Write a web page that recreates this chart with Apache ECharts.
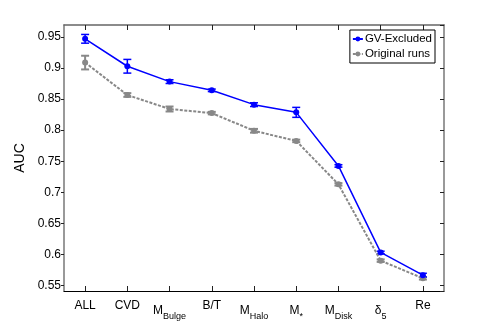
<!DOCTYPE html>
<html><head><meta charset="utf-8">
<script src="https://cdn.jsdelivr.net/npm/echarts@6/dist/echarts.min.js"></script>
<style>html,body{margin:0;padding:0;background:#fff}#c{width:491px;height:327px}</style>
</head><body><div id="c"></div>
<script>
var categories = ['ALL','CVD','MBulge','B/T','MHalo','Mstar','MDisk','delta5','Re'];
var categoryLabels = ['ALL','CVD','{m|M}{s|Bulge}','B/T','{m|M}{s|Halo}','{m|M}{s|*}','{m|M}{s|Disk}','{m|δ}{s|5}','Re'];
var gvExcluded = [0.9468, 0.9027, 0.878, 0.864, 0.841, 0.8286, 0.7425, 0.6035, 0.567];
var gvErr      = [0.007, 0.011, 0.003, 0.002, 0.003, 0.008, 0.002, 0.002, 0.003];
var original   = [0.9086, 0.8565, 0.834, 0.8274, 0.799, 0.7827, 0.7129, 0.5903, 0.5619];
var origErr    = [0.011, 0.003, 0.004, 0.002, 0.003, 0.002, 0.002, 0.002, 0.002];
var yTicks = [0.55, 0.6, 0.65, 0.7, 0.75, 0.8, 0.85, 0.9, 0.95];

var FONT = '"Liberation Sans Narrow", "Liberation Sans", Arial, sans-serif';
var chart = echarts.init(document.getElementById('c'));

function errData(vals, errs){
  return vals.map(function(v,i){ return [i, v-errs[i], v+errs[i]]; });
}
function errSeries(name, vals, errs, color, width){
  return {
    type:'custom', name: name + ' err', silent:true, z:3,
    xAxisIndex:0, yAxisIndex:0,
    data: errData(vals, errs),
    renderItem: function(params, api){
      var x = api.value(0);
      var lo = api.coord([x, api.value(1)]);
      var hi = api.coord([x, api.value(2)]);
      var hw = 4;
      var st = {stroke:color, lineWidth:width};
      return {type:'group', children:[
        {type:'line', shape:{x1:lo[0],y1:lo[1],x2:hi[0],y2:hi[1]}, style:st},
        {type:'line', shape:{x1:lo[0]-hw,y1:lo[1],x2:lo[0]+hw,y2:lo[1]}, style:st},
        {type:'line', shape:{x1:hi[0]-hw,y1:hi[1],x2:hi[0]+hw,y2:hi[1]}, style:st}
      ]};
    }
  };
}

var labelSet = {};
yTicks.forEach(function(t){ labelSet[t.toFixed(2)] = true; });

chart.setOption({
  animation:false,
  backgroundColor:'#fff',
  grid:{left:64, top:25, right:47, bottom:36, containLabel:false},
  legend:{
    right:56, top:30, orient:'vertical', itemGap:3, itemWidth:10, itemHeight:6,
    padding:[3,3,3,2],
    borderColor:'#000', borderWidth:1, backgroundColor:'#fff',
    textStyle:{fontFamily:FONT, fontSize:11.5, color:'#000', padding:[0,0,0,-3]},
    data:[{name:'GV-Excluded'},{name:'Original runs'}]
  },
  xAxis:[{
    type:'category', data:categories, boundaryGap:true, position:'bottom',
    axisLine:{show:true, lineStyle:{color:'#000', width:1}},
    axisTick:{show:true, interval:0, alignWithLabel:true, inside:true, length:5, lineStyle:{color:'#222', width:1}},
    axisLabel:{
      interval:0, margin:9, color:'#000', fontFamily:FONT, fontSize:12,
      formatter:function(v, i){ return categoryLabels[i]; },
      rich:{
        m:{fontFamily:FONT, fontSize:12, color:'#000'},
        s:{fontFamily:FONT, fontSize:9, color:'#000', verticalAlign:'bottom', padding:[12,0,0,0]}
      }
    },
    splitLine:{show:false}
  },{
    type:'category', data:categories, boundaryGap:true, position:'top',
    axisLine:{show:true, lineStyle:{color:'#666', width:1.5}},
    axisTick:{show:true, interval:0, alignWithLabel:true, inside:true, length:5, lineStyle:{color:'#222', width:1}},
    axisLabel:{show:false, interval:0}, splitLine:{show:false}
  }],
  yAxis:[{
    type:'value', min:0.5415, max:0.969, splitNumber:8, position:'left',
    name:'AUC', nameLocation:'middle', nameGap:24, nameRotate:90,
    nameTextStyle:{fontFamily:'"Liberation Sans", Arial, sans-serif', fontSize:14, color:'#000'},
    axisLine:{show:true, lineStyle:{color:'#777', width:1.5}},
    axisTick:{show:true, inside:false, length:3, lineStyle:{color:'#222'}},
    axisLabel:{
      margin:3, color:'#000', fontFamily:FONT, fontSize:12,
      showMinLabel:false, showMaxLabel:false,
      formatter:function(v){ var k=(+v).toFixed(2); return labelSet[k] ? String(+k) : ''; }
    },
    splitLine:{show:false}
  },{
    type:'value', min:0.5415, max:0.969, splitNumber:8, position:'right',
    axisLine:{show:true, lineStyle:{color:'#777', width:1.5}},
    axisTick:{show:true, inside:true, length:4, lineStyle:{color:'#222'}},
    axisLabel:{show:false}, splitLine:{show:false}
  }],
  series:[
    {
      name:'Original runs', type:'line', data:original, z:4,
      symbol:'circle', symbolSize:6,
      itemStyle:{color:'#888'},
      lineStyle:{color:'#888', width:2, type:[3,1.5]}
    },
    errSeries('Original runs', original, origErr, '#888', 2),
    {
      name:'GV-Excluded', type:'line', data:gvExcluded, z:5,
      symbol:'circle', symbolSize:6,
      itemStyle:{color:'#0000ff'},
      lineStyle:{color:'#0000ff', width:1.5}
    },
    errSeries('GV-Excluded', gvExcluded, gvErr, '#0000ff', 1.5)
  ]
});
</script></body></html>
